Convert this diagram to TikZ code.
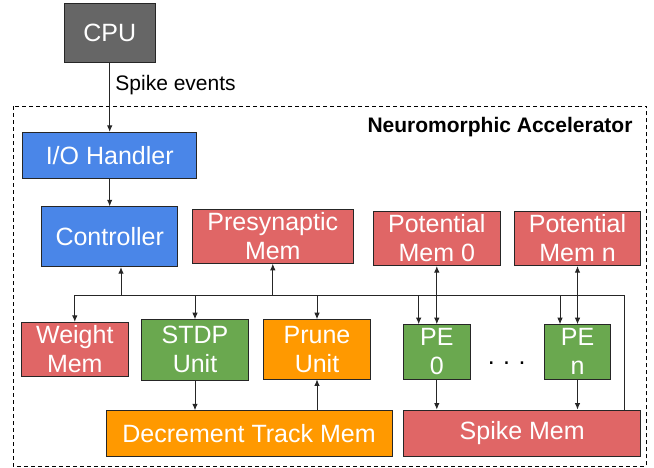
\documentclass[tikz,border=0pt]{standalone}
\usepackage{fontspec}
\setmainfont{Liberation Sans}
\usetikzlibrary{arrows.meta}
\definecolor{cpugray}{HTML}{666666}
\definecolor{gblue}{HTML}{4A86E8}
\definecolor{gred}{HTML}{E06666}
\definecolor{ggreen}{HTML}{6AA84F}
\definecolor{gorange}{HTML}{FF9900}
\tikzset{
  blk/.style={draw=black!85, line width=0.9pt, inner sep=0pt, text=white, align=center,
    font=\fontsize{25}{29}\selectfont},
  arr/.style={-{Latex[length=6.5pt,width=5.5pt]}, line width=0.9pt, draw=black!85},
  biarr/.style={{Latex[length=6.5pt,width=5.5pt]}-{Latex[length=6.5pt,width=5.5pt]}, line width=0.9pt, draw=black!85},
  wire/.style={line width=0.9pt, draw=black!85},
}
\begin{document}
\begin{tikzpicture}[x=1pt,y=-1pt]
\useasboundingbox (0,0) rectangle (654,467);
% accelerator frame
\draw[dashed, line width=0.9pt, dash pattern=on 4pt off 3pt] (13.3,106) rectangle (646.7,466);
\node[anchor=east, font=\fontsize{21}{25}\selectfont\bfseries] (title) at (636,127) {Neuromorphic Accelerator};

% blocks
\node[blk, fill=cpugray, minimum width=90.7pt, minimum height=59.4pt] (cpu) at (109.7,33) {CPU};
\node[blk, fill=gblue, minimum width=174pt, minimum height=46pt] (io) at (109.7,155.3) {I/O Handler};
\node[blk, fill=gblue, minimum width=136pt, minimum height=60pt] (ctl) at (109.7,236.7) {Controller};
\node[blk, fill=gred, minimum width=160.3pt, minimum height=54pt] (pre) at (272.8,236.3) {Presynaptic\\Mem};
\node[blk, fill=gred, minimum width=126.3pt, minimum height=54.7pt] (pot0) at (436.8,238.3) {Potential\\Mem 0};
\node[blk, fill=gred, minimum width=126.3pt, minimum height=54.7pt] (potn) at (577.5,238.3) {Potential\\Mem n};
\node[blk, fill=gred, minimum width=107.7pt, minimum height=54.4pt] (wgt) at (74.8,349.5) {Weight\\Mem};
\node[blk, fill=ggreen, minimum width=107.4pt, minimum height=60.3pt] (stdp) at (195,349.8) {STDP\\Unit};
\node[blk, fill=gorange, minimum width=107.4pt, minimum height=59.3pt] (prune) at (317,349.3) {Prune\\Unit};
\node[blk, fill=ggreen, minimum width=66.3pt, minimum height=54.3pt] (pe0) at (436.8,351.8) {PE\\0};
\node[blk, fill=ggreen, minimum width=66.3pt, minimum height=54.3pt] (pen) at (577.5,351.8) {PE\\n};
\node[blk, fill=gorange, minimum width=286pt, minimum height=46pt] (dec) at (249,433.7) {Decrement Track Mem};
\node[blk, fill=gred, minimum width=237pt, minimum height=46pt] (spk) at (522.2,433) {Spike Mem};
\node[font=\fontsize{25}{29}\selectfont, text=black] (dots) at (506.7,363) {.\,\,.\,\,.};

% CPU -> IO
\draw[arr] (cpu.south) -- node[pos=0.32, anchor=west, text=black, font=\fontsize{21}{25}\selectfont, xshift=2pt] (lbl) {Spike events} (io.north);
\draw[arr] (io.south) -- (ctl.north);

% bus
\coordinate (busL) at (74.8,295);
\coordinate (busR) at (624,295);
\coordinate (ctlx) at (121,295);
\coordinate (pe0x) at (418.7,295);
\coordinate (penx) at (560,295);
\draw[wire] (busL) -- (busR) -- (busR |- spk.north);
\draw[arr] (ctlx) -- (ctlx |- ctl.south);
\draw[arr] (pre.south |- busL) -- (pre.south);
\draw[arr] (busL) -- (wgt.north);
\draw[arr] (stdp.north |- busL) -- (stdp.north);
\draw[arr] (prune.north |- busL) -- (prune.north);
\draw[arr] (pe0x) -- (pe0x |- pe0.north);
\draw[arr] (penx) -- (penx |- pen.north);
\draw[biarr] (pot0.south) -- (pe0.north);
\draw[biarr] (potn.south) -- (pen.north);
\draw[arr] (pe0.south) -- (pe0.south |- spk.north);
\draw[arr] (pen.south) -- (pen.south |- spk.north);
\draw[arr] (stdp.south) -- (stdp.south |- dec.north);
\draw[arr] (prune.south |- dec.north) -- (prune.south);
\end{tikzpicture}
\end{document}
